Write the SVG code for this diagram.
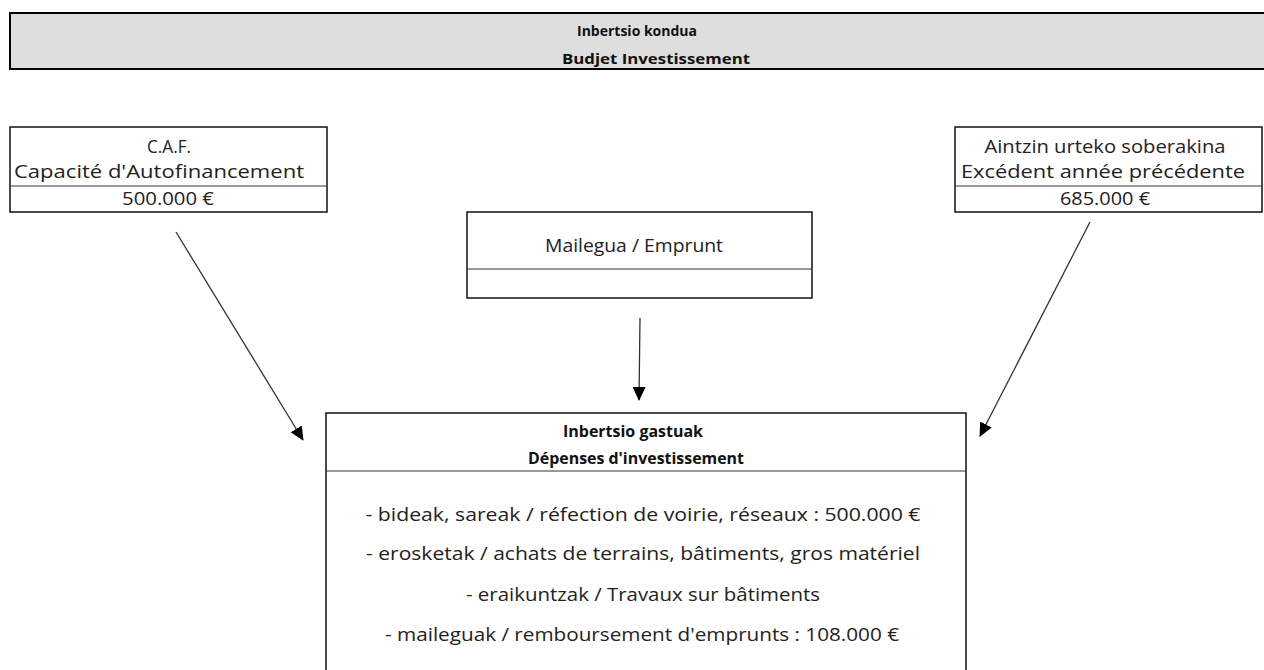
<svg xmlns="http://www.w3.org/2000/svg" width="1264" height="670" viewBox="0 0 1264 670">
<defs>
<marker id="ah" markerWidth="14" markerHeight="14" refX="13" refY="6.5" orient="auto" markerUnits="userSpaceOnUse">
<path d="M0,0 L14,6.5 L0,13 Z" fill="#000"/>
</marker>
<style>
text{font-family:"Open Sans","Liberation Sans",sans-serif;fill:#222;font-size:17.5px;text-anchor:middle;dominant-baseline:central}
.b{font-weight:bold;font-size:16px;fill:#111}
.h{font-size:15px}
.box{fill:#fff;stroke:#111;stroke-width:1.5}
.div{stroke:#333;stroke-width:1.2}
.conn{stroke:#333;stroke-width:1.3;fill:none;marker-end:url(#ah)}
</style>
</defs>
<rect width="1264" height="670" fill="#fff"/>
<g id="header">
<rect x="10" y="13" width="1262" height="56" fill="#dedede" stroke="#000" stroke-width="2"/>
<text class="b h" x="637" y="30" textLength="120" lengthAdjust="spacingAndGlyphs">Inbertsio kondua</text>
<text class="b h" x="656" y="58" textLength="188" lengthAdjust="spacingAndGlyphs">Budjet Investissement</text>
</g>
<g id="caf">
<rect class="box" x="10" y="127" width="317" height="85"/>
<line class="div" x1="10" y1="186" x2="327" y2="186"/>
<text x="169" y="146" textLength="44" lengthAdjust="spacingAndGlyphs">C.A.F.</text>
<text x="159" y="171" textLength="290" lengthAdjust="spacingAndGlyphs">Capacité d'Autofinancement</text>
<text x="168" y="198" textLength="92" lengthAdjust="spacingAndGlyphs">500.000 €</text>
</g>
<g id="excedent">
<rect class="box" x="955" y="127" width="307" height="85"/>
<line class="div" x1="955" y1="186" x2="1262" y2="186"/>
<text x="1105" y="146" textLength="241" lengthAdjust="spacingAndGlyphs">Aintzin urteko soberakina</text>
<text x="1103" y="171" textLength="284" lengthAdjust="spacingAndGlyphs">Excédent année précédente</text>
<text x="1105" y="198" textLength="90" lengthAdjust="spacingAndGlyphs">685.000 €</text>
</g>
<g id="emprunt">
<rect class="box" x="467" y="212" width="345" height="86"/>
<line class="div" x1="467" y1="269" x2="812" y2="269"/>
<text x="634" y="245" textLength="178" lengthAdjust="spacingAndGlyphs">Mailegua / Emprunt</text>
</g>
<g id="depenses">
<path d="M326,690 V413 H966 V690" fill="#fff" stroke="#111" stroke-width="1.5"/>
<line class="div" x1="326" y1="471" x2="966" y2="471"/>
<text class="b" x="633" y="431" textLength="140" lengthAdjust="spacingAndGlyphs">Inbertsio gastuak</text>
<text class="b" x="636" y="458" textLength="216" lengthAdjust="spacingAndGlyphs">Dépenses d'investissement</text>
<text x="643" y="514" textLength="555" lengthAdjust="spacingAndGlyphs">- bideak, sareak / réfection de voirie, réseaux : 500.000 €</text>
<text x="643" y="553" textLength="554" lengthAdjust="spacingAndGlyphs">- erosketak / achats de terrains, bâtiments, gros matériel</text>
<text x="643" y="594" textLength="354" lengthAdjust="spacingAndGlyphs">- eraikuntzak / Travaux sur bâtiments</text>
<text x="642" y="634" textLength="514" lengthAdjust="spacingAndGlyphs">- maileguak / remboursement d'emprunts : 108.000 €</text>
</g>
<g id="connectors">
<line class="conn" x1="176" y1="232" x2="303" y2="440"/>
<line class="conn" x1="640" y1="318" x2="639" y2="400"/>
<line class="conn" x1="1090" y1="222" x2="980" y2="436"/>
</g>
</svg>
